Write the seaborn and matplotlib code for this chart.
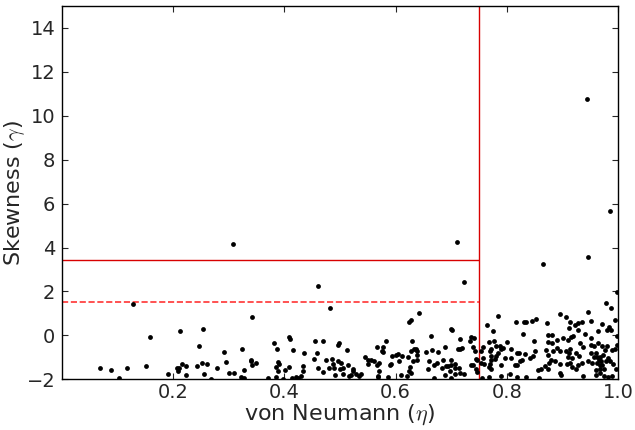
import numpy as np
import pandas as pd
import matplotlib
matplotlib.use("Agg")
import matplotlib.pyplot as plt
import seaborn as sns

# (von Neumann eta, skewness gamma), grouped by x range
pts_low = [(0.128, 1.41), (0.158, -0.09), (0.068, -1.47), (0.088, -1.56), (0.103, -1.94),
           (0.117, -1.50), (0.150, -1.40), (0.190, -1.76),
           (0.212, 0.22), (0.253, 0.28), (0.342, 0.84), (0.246, -0.49), (0.292, -0.75),
           (0.323, -0.60), (0.216, -1.29), (0.207, -1.50), (0.211, -1.47), (0.209, -1.64),
           (0.222, -1.40), (0.222, -1.79), (0.243, -1.40), (0.252, -1.24), (0.260, -1.32),
           (0.256, -1.77), (0.268, -1.99), (0.278, -1.50), (0.295, -1.23), (0.300, -1.71),
           (0.309, -1.71), (0.321, -1.88), (0.328, -1.94), (0.327, -1.56), (0.339, -1.11),
           (0.340, -1.19), (0.348, -1.28), (0.341, -1.37), (0.371, -1.94), (0.381, -0.36),
           (0.384, -1.43), (0.384, -1.88)]

pts_mid = [(0.387, -0.63), (0.408, -0.07), (0.410, -0.18), (0.416, -0.67), (0.436, -0.79),
           (0.455, -0.24), (0.470, -0.24), (0.459, -0.79), (0.496, -0.43), (0.499, -0.37),
           (0.512, -0.66), (0.566, -0.51), (0.575, -0.73), (0.389, -1.23), (0.391, -1.31),
           (0.389, -1.61), (0.401, -1.56), (0.409, -1.46), (0.398, -1.99), (0.413, -1.94),
           (0.420, -1.88), (0.424, -1.95), (0.430, -1.85), (0.434, -1.40), (0.434, -1.64),
           (0.454, -1.08), (0.461, -1.49), (0.469, -1.65), (0.474, -1.13), (0.480, -1.49),
           (0.486, -1.07), (0.487, -1.31), (0.489, -1.50), (0.491, -1.79), (0.497, -1.19),
           (0.500, -1.52), (0.502, -1.26), (0.506, -1.77), (0.506, -1.47), (0.514, -1.33),
           (0.517, -1.85), (0.519, -1.79), (0.524, -1.52), (0.524, -1.64), (0.528, -1.76),
           (0.535, -1.85), (0.538, -1.74), (0.545, -0.99), (0.550, -1.31), (0.550, -1.13),
           (0.556, -1.14), (0.561, -1.15), (0.566, -1.37), (0.570, -1.25), (0.568, -1.86),
           (0.571, -1.61)]

pts_upper_mid = [(0.625, 0.59), (0.628, 0.71), (0.700, 0.29), (0.701, 0.23), (0.663, -0.04),
                 (0.715, -0.18), (0.736, -0.09), (0.741, -0.13), (0.733, -0.28), (0.630, -0.25),
                 (0.583, -0.27), (0.577, -0.55), (0.577, -0.76), (0.600, -0.90), (0.604, -0.84),
                 (0.593, -0.93), (0.612, -0.93), (0.628, -0.70), (0.634, -0.64), (0.637, -0.60),
                 (0.639, -0.72), (0.638, -0.90), (0.655, -0.75), (0.665, -0.66), (0.677, -0.76),
                 (0.688, -0.54), (0.712, -0.61), (0.715, -0.61), (0.719, -0.58), (0.740, -0.51),
                 (0.742, -0.70), (0.590, -1.35), (0.592, -1.29), (0.607, -1.19), (0.622, -0.99),
                 (0.631, -1.19), (0.638, -1.14), (0.626, -1.46), (0.625, -1.62), (0.628, -1.73),
                 (0.621, -1.83), (0.609, -1.79), (0.658, -1.55), (0.661, -1.17), (0.669, -1.37),
                 (0.674, -1.26), (0.683, -1.50), (0.685, -1.14), (0.690, -1.40), (0.689, -1.82),
                 (0.694, -1.41), (0.699, -1.14), (0.700, -1.37), (0.698, -1.61), (0.706, -1.29),
                 (0.707, -1.50), (0.714, -1.47), (0.715, -1.73), (0.723, -1.74), (0.707, -1.76),
                 (0.669, -1.92), (0.736, -1.37), (0.740, -1.37), (0.744, -1.07), (0.746, -1.13),
                 (0.744, -1.55), (0.747, -1.68), (0.568, -1.89), (0.586, -1.91), (0.700, -1.92)]

pts_high = [(0.765, 0.46), (0.776, 0.22), (0.816, 0.61), (0.831, 0.61), (0.834, 0.61),
            (0.845, 0.64), (0.852, 0.73), (0.873, 0.55), (0.874, 0.02), (0.830, 0.08),
            (0.757, -0.55), (0.754, -0.72), (0.768, -0.29), (0.777, -0.24), (0.780, -0.49),
            (0.772, -0.61), (0.769, -0.70), (0.787, -0.48), (0.789, -0.64), (0.793, -0.57),
            (0.801, -0.29), (0.807, -0.61), (0.784, -0.79), (0.780, -0.93), (0.772, -0.93),
            (0.757, -1.04), (0.754, -1.25), (0.769, -1.32), (0.771, -1.55), (0.768, -1.43),
            (0.771, -1.11), (0.778, -1.08), (0.789, -1.33), (0.796, -1.04), (0.808, -1.04),
            (0.818, -0.79), (0.822, -0.79), (0.814, -1.35), (0.819, -1.33), (0.824, -1.19),
            (0.828, -1.13), (0.832, -0.86), (0.842, -1.04), (0.847, -0.96), (0.850, -0.72),
            (0.849, -0.27), (0.870, -0.67), (0.874, -0.88), (0.856, -1.59), (0.862, -1.55),
            (0.869, -1.38), (0.874, -1.55), (0.805, -1.77), (0.790, -1.83), (0.768, -1.91),
            (0.756, -1.94), (0.818, -1.89), (0.834, -1.91), (0.858, -1.95), (0.759, -1.32)]

pts_top = [(0.913, 0.61), (0.929, 0.55), (0.935, 0.61), (0.951, 0.66), (0.923, 0.48),
           (0.912, 0.35), (0.971, 0.50), (0.984, 0.38), (0.987, 0.26), (0.995, 0.68),
           (0.980, 0.26), (0.882, 0.00), (0.928, 0.25), (0.940, 0.04), (0.965, 0.20),
           (0.998, -0.02), (0.901, -0.13), (0.910, -0.22), (0.915, -0.07), (0.919, -0.05),
           (0.890, -0.20), (0.952, -0.14), (0.874, -0.31), (0.881, -0.33), (0.884, -0.70),
           (0.890, -0.57), (0.896, -0.72), (0.906, -0.72), (0.914, -0.60), (0.912, -0.82),
           (0.910, -0.97), (0.918, -1.02), (0.925, -0.79), (0.930, -0.93), (0.931, -0.37),
           (0.937, -0.52), (0.951, -0.43), (0.957, -0.49), (0.965, -0.37), (0.972, -0.49),
           (0.981, -0.48), (0.977, -0.67), (0.990, -0.67), (0.994, -0.60), (0.998, -0.42),
           (0.951, -0.81), (0.961, -0.82), (0.957, -0.97), (0.963, -0.97), (0.968, -1.00),
           (0.973, -0.91), (0.966, -1.13), (0.969, -1.19), (0.962, -1.25), (0.967, -1.33),
           (0.971, -1.37), (0.978, -1.16), (0.983, -1.04), (0.986, -1.19), (0.975, -1.52),
           (0.968, -1.52), (0.960, -1.58), (0.954, -1.28), (0.947, -1.17), (0.936, -1.25),
           (0.929, -1.33), (0.925, -1.53), (0.918, -1.43), (0.914, -1.25), (0.908, -1.32),
           (0.895, -1.29), (0.886, -1.17), (0.879, -1.11), (0.876, -1.28), (0.897, -1.81),
           (0.895, -1.73), (0.938, -1.86), (0.961, -1.79), (0.967, -1.71), (0.975, -1.86),
           (0.983, -1.91), (0.990, -1.85), (0.996, -1.52), (0.992, -1.29)]

pts_outliers = [(0.308, 4.15), (0.710, 4.24), (0.723, 2.45), (0.460, 2.25), (0.482, 1.26),
                (0.642, 1.03), (0.866, 3.23), (0.946, 3.58), (0.978, 1.47), (0.988, 1.23),
                (0.947, 1.08), (0.895, 0.97), (0.906, 0.84), (0.784, 0.86), (0.945, 10.75),
                (0.985, 5.65), (0.998, 1.97)]

eta_cut = 0.75
gamma_cut = 3.45
gamma_cut2 = 1.5

pts = pts_low + pts_mid + pts_upper_mid + pts_high + pts_top + pts_outliers
df = pd.DataFrame(pts, columns=['eta', 'gamma'])

sns.set_style('ticks')
plt.rcParams['font.family'] = ['DejaVu Sans']
plt.rcParams['mathtext.fontset'] = 'cm'

fig = plt.figure(figsize=(6.35, 4.3), dpi=100)
ax = fig.add_axes([0.098, 0.118, 0.875, 0.868])

sns.scatterplot(data=df, x='eta', y='gamma', color='k', s=12, linewidth=0, ax=ax, zorder=3)

ax.axvline(eta_cut, color='#d80000', lw=1.0)
ax.hlines(gamma_cut, 0, eta_cut, color='#d80000', lw=1.0)
ax.hlines(gamma_cut2, 0, eta_cut, color='#ff3333', lw=1.2, linestyles='--')

ax.set_xlim(0, 1.0)
ax.set_ylim(-2, 15)
ax.set_xticks([0.2, 0.4, 0.6, 0.8, 1.0])
ax.set_yticks(range(-2, 15, 2))
ax.tick_params(direction='in', top=True, right=True, labelsize=14, length=4)
ax.tick_params(axis='y', pad=5)
ax.tick_params(axis='x', pad=3)
ax.set_xlabel(r'von Neumann ($\eta$)', fontsize=16, labelpad=0)
ax.set_ylabel(r'Skewness ($\gamma$)', fontsize=16, labelpad=0)
for s in ax.spines.values():
    s.set_color('k')
    s.set_linewidth(1.0)

fig.savefig('out.png', dpi=100)
